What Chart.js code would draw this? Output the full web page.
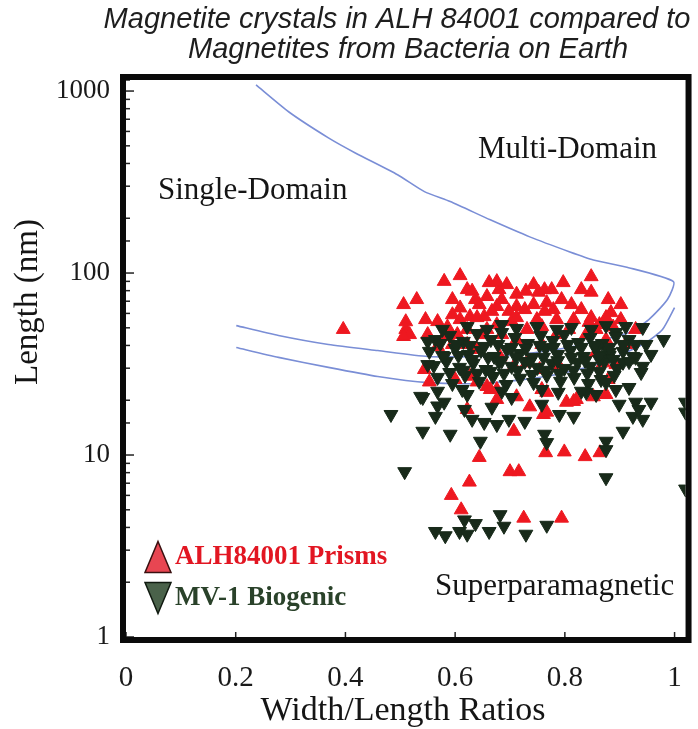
<!DOCTYPE html>
<html>
<head>
<meta charset="utf-8">
<title>Magnetite crystals in ALH 84001</title>
<script src="https://cdn.jsdelivr.net/npm/chart.js@4.4.1/dist/chart.umd.min.js"></script>
<style>
  html, body { margin: 0; padding: 0; background: #fff; }
  #wrap { width: 698px; height: 729px; }
</style>
</head>
<body>
<div id="wrap"><canvas id="magChart" width="698" height="729"></canvas></div>
<script>
// ALH84001 prisms: width/length ratio and length (nm)
const alhRatio = [
  0.396, 0.580, 0.609, 0.506, 0.530, 0.546, 0.510, 0.510, 0.517, 0.506,
  0.662, 0.680, 0.797, 0.848, 0.848, 0.729, 0.752, 0.644, 0.658, 0.676,
  0.712, 0.743, 0.767, 0.779, 0.609, 0.609, 0.627, 0.653, 0.698, 0.816,
  0.844, 0.863, 0.884, 0.888, 0.731, 0.586, 0.580, 0.568, 0.544, 0.553,
  0.640, 0.658, 0.707, 0.731, 0.754, 0.790, 0.821, 0.852, 0.803, 0.712,
  0.664, 0.736, 0.707, 0.857, 0.870, 0.767, 0.640, 0.682, 0.600, 0.622,
  0.637, 0.595, 0.685, 0.712, 0.763, 0.785, 0.749, 0.676, 0.622, 0.830,
  0.902, 0.875, 0.712, 0.595, 0.839, 0.644, 0.700, 0.716, 0.626, 0.593,
  0.611, 0.725, 0.794, 0.765, 0.799, 0.837, 0.864, 0.761, 0.767, 0.816,
  0.676, 0.627, 0.893, 0.879, 0.667, 0.703, 0.727, 0.763, 0.794, 0.807,
  0.857, 0.649, 0.776, 0.622, 0.604, 0.685, 0.758, 0.911, 0.676, 0.622,
  0.875, 0.758,
  0.595, 0.631, 0.694, 0.743, 0.830, 0.879, 0.902, 0.568, 0.785, 0.848,
  0.812, 0.712, 0.640, 0.658, 0.758, 0.875, 0.676, 0.929, 0.550
];
const alhLength = [
  49.0, 90.0, 96.8, 67.1, 71.5, 55.5, 54.0, 49.0, 45.9, 44.8,
  88.6, 81.1, 88.6, 95.5, 78.5, 79.5, 78.5, 67.1, 74.3, 65.5,
  65.5, 67.1, 68.7, 63.0, 64.3, 55.5, 57.6, 57.6, 61.6, 55.5,
  53.6, 52.1, 60.6, 50.5, 49.0, 50.5, 44.8, 39.5, 29.5, 25.2,
  25.2, 23.8, 30.6, 32.1, 29.5, 30.6, 20.2, 20.9, 19.5, 20.9,
  22.9, 18.4, 13.5, 36.6, 32.1, 22.1, 38.0, 34.6, 26.0, 81.1,
  71.5, 59.0, 71.5, 76.5, 81.0, 55.5, 55.5, 52.0, 49.0, 63.0,
  55.5, 43.0, 43.0, 40.5, 46.0, 9.7, 8.1, 8.1, 7.1, 6.0,
  5.0, 4.5, 4.5, 10.3, 10.4, 9.8, 10.3, 16.7, 17.2, 19.7,
  22.9, 27.1, 31.4, 26.0, 61.6, 54.1, 63.0, 61.6, 71.5, 49.0,
  49.0, 45.9, 81.1, 40.5, 45.9, 45.9, 40.5, 40.5, 20.2, 17.8,
  21.5, 22.9,
  71.5, 79.5, 86.4, 86.4, 81.1, 71.5, 67.1, 54.1, 45.9, 56.9,
  67.1, 56.9, 56.9, 49.0, 50.8, 56.9, 89.7, 49.0, 45.9
];

// MV-1 biogenic magnetites
const mv1Ratio = [
  0.564, 0.590, 0.615, 0.640, 0.665, 0.685, 0.709, 0.732, 0.756, 0.778,
  0.799, 0.825, 0.846, 0.868, 0.893, 0.917,
  0.553, 0.577, 0.600, 0.624, 0.647, 0.671, 0.694, 0.718, 0.741, 0.765,
  0.787, 0.810, 0.834, 0.857, 0.881, 0.906, 0.929,
  0.561, 0.584, 0.608, 0.633, 0.656, 0.680, 0.703, 0.727, 0.750, 0.776,
  0.799, 0.823, 0.846, 0.872, 0.895,
  0.568, 0.595, 0.618, 0.644, 0.669, 0.693, 0.718, 0.743, 0.767, 0.792,
  0.817, 0.843, 0.866,
  0.685, 0.749, 0.812, 0.875, 0.911, 0.942, 0.893, 0.980,
  0.483, 0.541, 0.541, 0.591, 0.564, 0.580, 0.617, 0.631, 0.653, 0.676,
  0.698, 0.727, 0.788, 0.790, 0.816, 0.839, 0.917, 0.899, 0.929, 0.957,
  0.924, 0.942, 0.906, 0.875, 0.646, 0.763, 0.767, 0.875, 0.875, 1.020,
  1.020, 0.939, 0.622, 0.703, 0.758, 0.667, 0.875, 0.508, 1.020, 0.537,
  0.568, 0.935,
  0.564, 0.582, 0.608, 0.622, 0.617, 0.637, 0.662, 0.682, 0.689, 0.729,
  0.767,
  0.924, 0.942, 0.906, 0.881, 0.863,
  0.573, 0.602, 0.627, 0.653, 0.678, 0.703, 0.729, 0.754, 0.779, 0.805,
  0.830, 0.855, 0.881, 0.906,
  0.580, 0.606, 0.631, 0.660, 0.685, 0.711, 0.736, 0.761, 0.787, 0.812,
  0.837, 0.863, 0.888, 0.917,
  0.590, 0.615, 0.640, 0.664, 0.689, 0.714, 0.740, 0.765, 0.790, 0.816,
  0.841, 0.863, 0.890,
  0.577, 0.622, 0.658, 0.712, 0.785, 0.848, 0.550, 0.550, 0.948, 0.957,
  0.929, 0.830, 0.758, 0.685, 0.613, 0.568, 0.857, 0.893
];
const mv1Length = [
  43.1, 45.4, 42.1, 46.5, 43.1, 47.1, 44.2, 41.0, 45.4, 42.6,
  45.9, 41.5, 44.2, 41.0, 47.1, 43.1,
  37.1, 35.2, 38.5, 35.7, 37.5, 34.8, 38.0, 36.1, 34.4, 38.5,
  35.7, 37.5, 34.8, 38.0, 35.2, 37.1, 34.4,
  31.0, 32.6, 30.3, 31.9, 29.5, 32.3, 30.7, 32.6, 30.3, 31.9,
  29.9, 32.3, 30.7, 32.6, 29.9,
  26.7, 24.7, 27.4, 25.4, 27.0, 24.4, 26.4, 25.0, 27.4, 25.4,
  26.7, 24.7, 26.0,
  52.1, 50.8, 50.2, 51.4, 50.8, 50.2, 44.8, 43.1,
  16.7, 20.7, 13.5, 13.0, 16.3, 19.5, 17.8, 15.7, 15.1, 14.7,
  15.7, 15.3, 22.1, 16.7, 16.3, 22.1, 23.5, 19.0, 19.5, 19.5,
  16.3, 15.7, 13.5, 25.0, 11.9, 13.0, 11.7, 11.9, 10.7, 19.5,
  17.2, 28.4, 21.5, 20.7, 19.0, 18.3, 7.5, 8.1, 6.5, 21.0,
  18.6, 17.8,
  3.8, 3.6, 3.8, 3.67, 4.4, 4.2, 3.8, 4.7, 4.06, 3.67,
  4.11,
  34.8, 30.7, 32.3, 36.6, 33.5,
  41.0, 40.5, 40.0, 39.5, 40.5, 39.0, 38.5, 40.0, 39.0, 40.5,
  39.0, 40.0, 39.0, 40.5,
  34.8, 35.2, 33.5, 34.4, 33.0, 34.4, 32.6, 34.4, 33.0, 34.4,
  33.0, 35.2, 33.5, 32.6,
  28.4, 29.2, 28.1, 28.8, 28.1, 29.2, 27.7, 29.2, 28.1, 29.2,
  28.1, 28.8, 27.4,
  49.0, 50.8, 49.0, 49.6, 49.0, 49.0, 42.1, 31.4, 40.5, 35.7,
  40.5, 22.4, 22.9, 22.4, 22.9, 22.4, 21.5, 22.9
];

// domain boundary curves
const mdBoundRatio = [
  0.237, 0.297, 0.369, 0.418, 0.495, 0.544, 0.591, 0.664, 0.736, 0.808,
  0.852, 0.911, 0.998, 0.987, 0.953, 0.917, 0.857, 0.785, 0.712, 0.640,
  0.550, 0.459, 0.369, 0.278, 0.201
];
const mdBoundLength = [
  1080, 767, 553, 457, 347, 280, 247, 196, 158, 131,
  118, 108, 89.7, 71.5, 55.5, 47.1, 42.1, 38.0, 35.7, 34.8,
  34.8, 37.5, 40.5, 45.4, 51.4
];
const spBoundRatio = [
  1.000, 0.978, 0.948, 0.911, 0.857, 0.785, 0.712, 0.640, 0.550, 0.459,
  0.369, 0.278, 0.201
];
const spBoundLength = [
  64.6, 49.0, 41.5, 36.6, 31.4, 27.7, 25.7, 24.7, 25.0, 27.0,
  30.3, 34.4, 39.0
];

const xTicks = [0, 0.2, 0.4, 0.6, 0.8, 1];
const xTickLabels = ['0', '0.2', '0.4', '0.6', '0.8', '1'];
const yTicks = [1, 10, 100, 1000];
const yTickLabels = ['1', '10', '100', '1000'];

const SERIF = '"Liberation Serif", "Times New Roman", serif';
const RED = 'rgb(238, 24, 32)';
const GREEN = 'rgb(24, 42, 26)';
const BLUE = 'rgb(122, 142, 214)';

function toPoints(xs, ys) {
  return xs.map((x, i) => ({ x: x, y: ys[i] }));
}

function isDecade(v) {
  const l = Math.log10(v);
  return Math.abs(l - Math.round(l)) < 1e-6;
}

function triangle(ctx, cx, cy, w, h, up) {
  ctx.beginPath();
  if (up) {
    ctx.moveTo(cx, cy - h / 2);
    ctx.lineTo(cx + w / 2, cy + h / 2);
    ctx.lineTo(cx - w / 2, cy + h / 2);
  } else {
    ctx.moveTo(cx, cy + h / 2);
    ctx.lineTo(cx + w / 2, cy - h / 2);
    ctx.lineTo(cx - w / 2, cy - h / 2);
  }
  ctx.closePath();
  ctx.fill();
  ctx.stroke();
}

// frame, inner tick marks, titles, region labels and legend
const decorations = {
  id: 'decorations',
  afterDatasetsDraw(chart) {
    const { ctx, chartArea: a, scales } = chart;
    ctx.save();
    ctx.strokeStyle = '#222';
    ctx.lineWidth = 1.5;
    scales.y.ticks.forEach(t => {
      const py = scales.y.getPixelForValue(t.value);
      const len = isDecade(t.value) ? 8 : 4;
      ctx.beginPath();
      ctx.moveTo(a.left, py);
      ctx.lineTo(a.left + len, py);
      ctx.stroke();
    });
    scales.x.ticks.forEach(t => {
      const px = scales.x.getPixelForValue(t.value);
      ctx.beginPath();
      ctx.moveTo(px, a.bottom);
      ctx.lineTo(px, a.bottom - 5);
      ctx.stroke();
    });
    ctx.lineWidth = 6;
    ctx.strokeStyle = '#0a0a0a';
    ctx.strokeRect(a.left - 3, a.top - 3, a.right - a.left + 6, a.bottom - a.top + 6);
    ctx.restore();
  },
  afterDraw(chart) {
    const ctx = chart.ctx;
    ctx.save();
    ctx.textBaseline = 'middle';

    // title
    ctx.fillStyle = '#1e1e1e';
    ctx.textAlign = 'center';
    ctx.font = 'italic 29px "Liberation Sans", Arial, sans-serif';
    ctx.fillText('Magnetite crystals in ALH 84001 compared to', 397, 20);
    ctx.fillText('Magnetites from Bacteria on Earth', 408, 50);

    // axis titles
    ctx.fillStyle = '#151515';
    ctx.font = '34px ' + SERIF;
    ctx.fillText('Width/Length Ratios', 403, 711);
    ctx.save();
    ctx.font = '33px ' + SERIF;
    ctx.translate(28, 302);
    ctx.rotate(-Math.PI / 2);
    ctx.fillText('Length (nm)', 0, 0);
    ctx.restore();

    // region labels
    ctx.textAlign = 'left';
    ctx.font = '31px ' + SERIF;
    ctx.fillText('Single-Domain', 158, 191);
    ctx.fillText('Multi-Domain', 478, 150);
    ctx.fillText('Superparamagnetic', 435, 587);

    // legend
    ctx.lineWidth = 1.5;
    ctx.strokeStyle = '#3a1010';
    ctx.fillStyle = 'rgb(232, 70, 82)';
    triangle(ctx, 158, 557, 26, 31, true);
    ctx.strokeStyle = '#101a10';
    ctx.fillStyle = 'rgb(74, 98, 74)';
    triangle(ctx, 158, 598, 26, 31, false);
    ctx.font = 'bold 27px ' + SERIF;
    ctx.fillStyle = 'rgb(226, 22, 34)';
    ctx.fillText('ALH84001 Prisms', 175, 557);
    ctx.fillStyle = 'rgb(42, 66, 42)';
    ctx.fillText('MV-1 Biogenic', 175, 598);
    ctx.restore();
  }
};

new Chart(document.getElementById('magChart').getContext('2d'), {
  type: 'scatter',
  data: {
    datasets: [
      {
        label: 'MV-1 Biogenic',
        data: toPoints(mv1Ratio, mv1Length),
        pointStyle: 'triangle',
        rotation: 180,
        pointRadius: 8,
        backgroundColor: GREEN,
        borderColor: GREEN,
        borderWidth: 1,
        order: 0
      },
      {
        label: 'ALH84001 Prisms',
        data: toPoints(alhRatio, alhLength),
        pointStyle: 'triangle',
        pointRadius: 8,
        backgroundColor: RED,
        borderColor: RED,
        borderWidth: 1,
        order: 1
      },
      {
        label: 'SD/MD boundary',
        data: toPoints(mdBoundRatio, mdBoundLength),
        showLine: true,
        pointRadius: 0,
        borderColor: BLUE,
        borderWidth: 1.6,
        tension: 0.2,
        order: 2
      },
      {
        label: 'SP/SD boundary',
        data: toPoints(spBoundRatio, spBoundLength),
        showLine: true,
        pointRadius: 0,
        borderColor: BLUE,
        borderWidth: 1.6,
        tension: 0.2,
        order: 2
      }
    ]
  },
  options: {
    responsive: false,
    animation: false,
    events: [],
    layout: { padding: { top: 80, right: 8, left: 0, bottom: 0 } },
    plugins: {
      legend: { display: false },
      tooltip: { enabled: false },
      title: { display: false }
    },
    scales: {
      x: {
        type: 'linear',
        min: 0,
        max: 1.02,
        grid: { display: false },
        border: { display: false },
        afterBuildTicks: scale => { scale.ticks = xTicks.map(v => ({ value: v })); },
        afterFit: scale => { scale.height = 92; },
        ticks: {
          padding: 16,
          color: '#1a1a1a',
          font: { family: SERIF, size: 29 },
          callback: value => {
            const i = xTicks.indexOf(value);
            return i >= 0 ? xTickLabels[i] : '';
          }
        }
      },
      y: {
        type: 'logarithmic',
        min: 1,
        max: 1150,
        grid: { display: false },
        border: { display: false },
        afterFit: scale => { scale.width = 126; },
        ticks: {
          autoSkip: false,
          padding: 8,
          color: '#1a1a1a',
          font: { family: SERIF, size: 27 },
          callback: value => {
            if (!isDecade(value)) return '';
            const i = yTicks.indexOf(Math.round(value));
            return i >= 0 ? yTickLabels[i] : '';
          }
        }
      }
    }
  },
  plugins: [decorations]
});
</script>
</body>
</html>
